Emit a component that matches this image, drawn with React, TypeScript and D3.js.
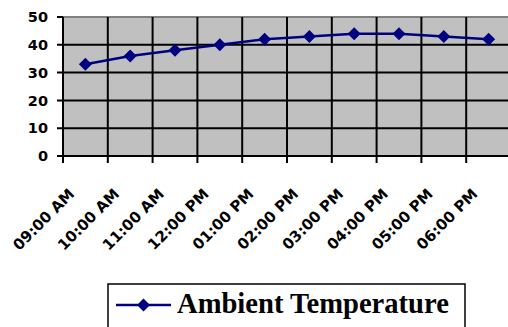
import React from "react";
import * as d3 from "d3";

const categories = ["09:00 AM", "10:00 AM", "11:00 AM", "12:00 PM", "01:00 PM", "02:00 PM", "03:00 PM", "04:00 PM", "05:00 PM", "06:00 PM"];
const temps = [33, 36, 38, 40, 42, 43, 44, 44, 43, 42];
const yTicks = [0, 10, 20, 30, 40, 50];
const seriesName = "Ambient Temperature";

const W = 508, H = 327;
const left = 63, top = 17, right = 511, bottom = 156;

export default function App() {
  const x = d3.scaleBand<string>().domain(categories).range([left, right]);
  const y = d3.scaleLinear().domain([0, 50]).range([bottom, top]);
  const cx = (c: string) => (x(c) as number) + x.bandwidth() / 2;
  const line = d3.line<number>().x((_, i) => cx(categories[i])).y((d) => y(d));
  const diamond = (px: number, py: number, r: number) => `M${px},${py - r}L${px + r},${py}L${px},${py + r}L${px - r},${py}Z`;
  const bounds = categories.map((c) => x(c) as number).concat([right]);
  return (
    <svg width={W} height={H} style={{ position: "absolute", left: 0, top: 0 }}>
      <rect x={0} y={0} width={W} height={H} fill="#fff" />
      <rect x={left} y={top} width={right - left} height={bottom - top} fill="#c0c0c0" />
      {yTicks.filter((t) => t < 50).map((t) => (
        <line key={t} x1={left - 6} x2={right} y1={y(t)} y2={y(t)} stroke="#000" strokeWidth={2} />
      ))}
      <line x1={left} x2={right} y1={y(50)} y2={y(50)} stroke="#808080" strokeWidth={2} />
      <line x1={left - 6} x2={left} y1={y(50)} y2={y(50)} stroke="#000" strokeWidth={2} />
      {bounds.map((b, i) => (
        <line key={i} x1={b} x2={b} y1={top} y2={bottom + 7} stroke="#000" strokeWidth={2} />
      ))}
      {yTicks.map((t) => (
        <text key={t} x={48} y={y(t)} dy="0.36em" textAnchor="end" fontFamily="DejaVu Sans" fontWeight="bold" fontSize={14.5}>{t}</text>
      ))}
      {categories.map((c) => (
        <text key={c} transform={`translate(${cx(c) - 10},${bottom + 39}) rotate(-45)`} textAnchor="end" fontFamily="DejaVu Sans" fontWeight="bold" fontSize={15}>{c}</text>
      ))}
      <path d={line(temps) as string} fill="none" stroke="#000080" strokeWidth={2.5} />
      {temps.map((t, i) => (
        <path key={i} d={diamond(cx(categories[i]), y(t), 6.5)} fill="#000080" />
      ))}
      <rect x={108} y={284} width={357} height={60} fill="#fff" stroke="#000" strokeWidth={1.5} />
      <line x1={116} x2={171} y1={305} y2={305} stroke="#000080" strokeWidth={2.5} />
      <path d={diamond(143.5, 305, 6.5)} fill="#000080" />
      <text x={177} y={313} fontFamily="Liberation Serif" fontWeight="bold" fontSize={28.6}>{seriesName}</text>
    </svg>
  );
}
